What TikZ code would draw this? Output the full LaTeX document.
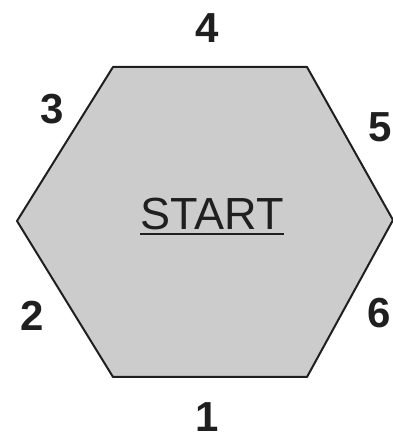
\documentclass[tikz,border=0pt]{standalone}
\usepackage{fontspec}
\setmainfont{Liberation Sans}
\usetikzlibrary{positioning}
\definecolor{hexfill}{gray}{0.80}
\definecolor{hexline}{gray}{0.12}

\begin{document}
\begin{tikzpicture}[
  x=1pt, y=1pt,
  hexside/.style={font=\fontsize{42}{42}\selectfont\bfseries, inner sep=0pt, text=hexline},
  title/.style={font=\fontsize{45}{45}\selectfont, inner sep=0pt, anchor=base, text=hexline},
  rim/.style={draw=hexline, line width=2pt, line join=round, fill=hexfill}
]
\useasboundingbox (0,0) rectangle (392,439);
% corners of the hexagon
\coordinate (W)  at (17,218);
\coordinate (NW) at (113,372);
\coordinate (NE) at (307,372);
\coordinate (E)  at (393,219);
\coordinate (SE) at (307,62);
\coordinate (SW) at (113,62);
\draw[rim] (W) -- (NW) -- (NE) -- (E) -- (SE) -- (SW) -- cycle;
\node[title] (start) at (212,209) {START};
\draw[hexline, line width=2.5pt] ([yshift=-4pt]start.base west) -- ([yshift=-4pt]start.base east);
% side numbers
\node[hexside] (n1) at (207,22)  {1};
\node[hexside] (n2) at (32,123)  {2};
\node[hexside] (n3) at (52,330)  {3};
\node[hexside] (n4) at (207,411) {4};
\node[hexside] (n5) at (380,312) {5};
\node[hexside] (n6) at (379,126) {6};
\end{tikzpicture}
\end{document}
